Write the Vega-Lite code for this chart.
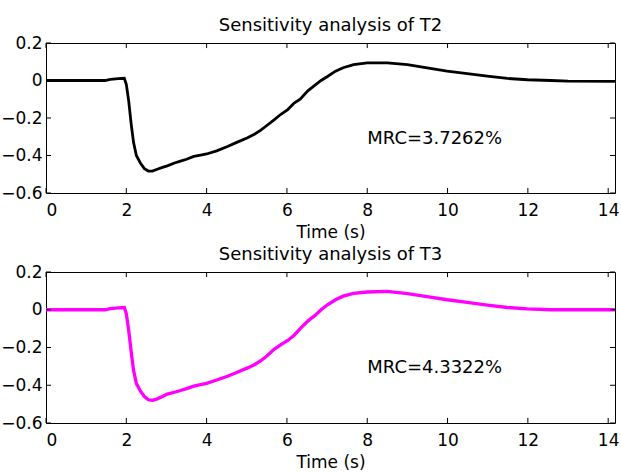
{
  "$schema": "https://vega.github.io/schema/vega-lite/v6.json",
  "background": "white",
  "padding": {"left": 0, "top": 16, "right": 4, "bottom": 0},
  "spacing": 4,
  "config": {
    "view": {"stroke": "black", "strokeWidth": 1},
    "font": "DejaVu Sans",
    "axis": {
      "domain": false, "grid": false, "ticks": false,
      "labelFont": "DejaVu Sans", "labelFontSize": 17, "labelColor": "black",
      "titleFont": "DejaVu Sans", "titleFontSize": 17, "titleFontWeight": "normal", "titleColor": "black", "titlePadding": 6
    },
    "axisX": {"labelPadding": 9},
    "axisY": {"labelPadding": 4},
    "title": {"font": "DejaVu Sans", "fontSize": 18, "fontWeight": "normal", "color": "black", "offset": -1}
  },
  "datasets": {
    "xticks": [{"t":0},{"t":2},{"t":4},{"t":6},{"t":8},{"t":10},{"t":12},{"t":14}],
    "yticks": [{"v":-0.6},{"v":-0.4},{"v":-0.2},{"v":0},{"v":0.2}],
    "t2": [
      {"t":0,"v":0},{"t":0.5,"v":0},{"t":1.0,"v":0},{"t":1.47,"v":0},{"t":1.6,"v":0.006},{"t":1.8,"v":0.01},{"t":1.95,"v":0.012},
      {"t":2.0,"v":-0.02},{"t":2.06,"v":-0.11},{"t":2.12,"v":-0.23},{"t":2.18,"v":-0.33},{"t":2.25,"v":-0.40},{"t":2.35,"v":-0.44},
      {"t":2.45,"v":-0.47},{"t":2.55,"v":-0.483},{"t":2.65,"v":-0.483},{"t":2.77,"v":-0.473},{"t":2.9,"v":-0.463},{"t":3.02,"v":-0.455},
      {"t":3.2,"v":-0.44},{"t":3.35,"v":-0.43},{"t":3.5,"v":-0.42},{"t":3.68,"v":-0.405},{"t":3.85,"v":-0.398},{"t":4.0,"v":-0.392},
      {"t":4.25,"v":-0.375},{"t":4.52,"v":-0.352},{"t":4.75,"v":-0.33},{"t":5.02,"v":-0.305},{"t":5.2,"v":-0.285},{"t":5.35,"v":-0.265},
      {"t":5.5,"v":-0.24},{"t":5.68,"v":-0.21},{"t":5.85,"v":-0.18},{"t":6.02,"v":-0.155},{"t":6.18,"v":-0.12},{"t":6.33,"v":-0.10},
      {"t":6.52,"v":-0.055},{"t":6.7,"v":-0.025},{"t":6.85,"v":0},{"t":7.0,"v":0.02},{"t":7.21,"v":0.05},{"t":7.4,"v":0.068},
      {"t":7.66,"v":0.085},{"t":8.0,"v":0.094},{"t":8.5,"v":0.094},{"t":9.0,"v":0.085},{"t":9.49,"v":0.067},{"t":9.99,"v":0.05},
      {"t":10.49,"v":0.037},{"t":10.99,"v":0.023},{"t":11.49,"v":0.011},{"t":11.99,"v":0.004},{"t":12.57,"v":0},{"t":13.0,"v":-0.003},{"t":14.17,"v":-0.005}
    ],
    "t3": [
      {"t":0,"v":0},{"t":0.5,"v":0},{"t":1.0,"v":0},{"t":1.47,"v":0},{"t":1.6,"v":0.006},{"t":1.8,"v":0.01},{"t":1.95,"v":0.012},
      {"t":2.0,"v":-0.02},{"t":2.06,"v":-0.11},{"t":2.12,"v":-0.22},{"t":2.18,"v":-0.32},{"t":2.25,"v":-0.39},{"t":2.35,"v":-0.43},
      {"t":2.45,"v":-0.46},{"t":2.55,"v":-0.477},{"t":2.65,"v":-0.48},{"t":2.77,"v":-0.472},{"t":2.9,"v":-0.46},{"t":3.02,"v":-0.447},
      {"t":3.2,"v":-0.437},{"t":3.35,"v":-0.428},{"t":3.5,"v":-0.418},{"t":3.68,"v":-0.405},{"t":3.85,"v":-0.397},{"t":4.0,"v":-0.39},
      {"t":4.25,"v":-0.372},{"t":4.52,"v":-0.352},{"t":4.75,"v":-0.332},{"t":5.02,"v":-0.308},{"t":5.2,"v":-0.29},{"t":5.35,"v":-0.27},
      {"t":5.5,"v":-0.245},{"t":5.68,"v":-0.21},{"t":5.85,"v":-0.185},{"t":6.02,"v":-0.163},{"t":6.18,"v":-0.135},{"t":6.33,"v":-0.10},
      {"t":6.52,"v":-0.06},{"t":6.7,"v":-0.03},{"t":6.85,"v":0},{"t":7.0,"v":0.025},{"t":7.21,"v":0.053},{"t":7.4,"v":0.072},
      {"t":7.66,"v":0.087},{"t":8.0,"v":0.094},{"t":8.5,"v":0.097},{"t":9.0,"v":0.085},{"t":9.49,"v":0.07},{"t":9.99,"v":0.053},
      {"t":10.49,"v":0.039},{"t":10.99,"v":0.025},{"t":11.49,"v":0.012},{"t":11.99,"v":0.005},{"t":12.57,"v":0},{"t":13.0,"v":0},{"t":14.17,"v":0}
    ]
  },
  "vconcat": [
    {
      "title": "Sensitivity analysis of T2",
      "width": 569, "height": 150,
      "resolve": {"axis": {"x": "independent", "y": "independent"}},
      "layer": [
        {
          "data": {"name": "t2"},
          "mark": {"type": "line", "color": "black", "strokeWidth": 2.8},
          "encoding": {
            "x": {"field": "t", "type": "quantitative", "scale": {"domain": [0, 14.17], "nice": false, "zero": false},
                  "axis": {"orient": "bottom", "values": [0,2,4,6,8,10,12,14], "format": "d", "title": "Time (s)"}},
            "y": {"field": "v", "type": "quantitative", "scale": {"domain": [-0.6, 0.2], "nice": false, "zero": false},
                  "axis": {"orient": "left", "values": [-0.6,-0.4,-0.2,0,0.2], "labelExpr": "datum.value == 0 ? '0' : format(datum.value, '.1f')", "title": null}}
          }
        },
        {
          "data": {"name": "xticks"},
          "mark": {"type": "rule", "color": "black", "strokeWidth": 1},
          "encoding": {
            "x": {"field": "t", "type": "quantitative", "axis": null},
            "y": {"datum": -0.6, "type": "quantitative", "axis": null},
            "y2": {"datum": -0.573}
          }
        },
        {
          "data": {"name": "xticks"},
          "mark": {"type": "rule", "color": "black", "strokeWidth": 1},
          "encoding": {
            "x": {"field": "t", "type": "quantitative", "axis": null},
            "y": {"datum": 0.2, "type": "quantitative", "axis": null},
            "y2": {"datum": 0.173}
          }
        },
        {
          "data": {"name": "yticks"},
          "mark": {"type": "rule", "color": "black", "strokeWidth": 1},
          "encoding": {
            "y": {"field": "v", "type": "quantitative", "axis": null},
            "x": {"datum": 0, "type": "quantitative", "axis": null},
            "x2": {"datum": 0.125}
          }
        },
        {
          "data": {"name": "yticks"},
          "mark": {"type": "rule", "color": "black", "strokeWidth": 1},
          "encoding": {
            "y": {"field": "v", "type": "quantitative", "axis": null},
            "x": {"datum": 14.17, "type": "quantitative", "axis": null},
            "x2": {"datum": 14.045}
          }
        },
        {
          "data": {"values": [{"t": 8, "v": -0.31, "label": "MRC=3.7262%"}]},
          "mark": {"type": "text", "align": "left", "baseline": "middle", "font": "DejaVu Sans", "fontSize": 18, "color": "black"},
          "encoding": {
            "x": {"field": "t", "type": "quantitative", "axis": null},
            "y": {"field": "v", "type": "quantitative", "axis": null},
            "text": {"field": "label"}
          }
        }
      ]
    },
    {
      "title": "Sensitivity analysis of T3",
      "width": 569, "height": 151,
      "resolve": {"axis": {"x": "independent", "y": "independent"}},
      "layer": [
        {
          "data": {"name": "t3"},
          "mark": {"type": "line", "color": "#ff00ff", "strokeWidth": 3.3},
          "encoding": {
            "x": {"field": "t", "type": "quantitative", "scale": {"domain": [0, 14.17], "nice": false, "zero": false},
                  "axis": {"orient": "bottom", "values": [0,2,4,6,8,10,12,14], "format": "d", "title": "Time (s)"}},
            "y": {"field": "v", "type": "quantitative", "scale": {"domain": [-0.6, 0.2], "nice": false, "zero": false},
                  "axis": {"orient": "left", "values": [-0.6,-0.4,-0.2,0,0.2], "labelExpr": "datum.value == 0 ? '0' : format(datum.value, '.1f')", "title": null}}
          }
        },
        {
          "data": {"name": "xticks"},
          "mark": {"type": "rule", "color": "black", "strokeWidth": 1},
          "encoding": {
            "x": {"field": "t", "type": "quantitative", "axis": null},
            "y": {"datum": -0.6, "type": "quantitative", "axis": null},
            "y2": {"datum": -0.573}
          }
        },
        {
          "data": {"name": "xticks"},
          "mark": {"type": "rule", "color": "black", "strokeWidth": 1},
          "encoding": {
            "x": {"field": "t", "type": "quantitative", "axis": null},
            "y": {"datum": 0.2, "type": "quantitative", "axis": null},
            "y2": {"datum": 0.173}
          }
        },
        {
          "data": {"name": "yticks"},
          "mark": {"type": "rule", "color": "black", "strokeWidth": 1},
          "encoding": {
            "y": {"field": "v", "type": "quantitative", "axis": null},
            "x": {"datum": 0, "type": "quantitative", "axis": null},
            "x2": {"datum": 0.125}
          }
        },
        {
          "data": {"name": "yticks"},
          "mark": {"type": "rule", "color": "black", "strokeWidth": 1},
          "encoding": {
            "y": {"field": "v", "type": "quantitative", "axis": null},
            "x": {"datum": 14.17, "type": "quantitative", "axis": null},
            "x2": {"datum": 14.045}
          }
        },
        {
          "data": {"values": [{"t": 8, "v": -0.31, "label": "MRC=4.3322%"}]},
          "mark": {"type": "text", "align": "left", "baseline": "middle", "font": "DejaVu Sans", "fontSize": 18, "color": "black"},
          "encoding": {
            "x": {"field": "t", "type": "quantitative", "axis": null},
            "y": {"field": "v", "type": "quantitative", "axis": null},
            "text": {"field": "label"}
          }
        }
      ]
    }
  ]
}
